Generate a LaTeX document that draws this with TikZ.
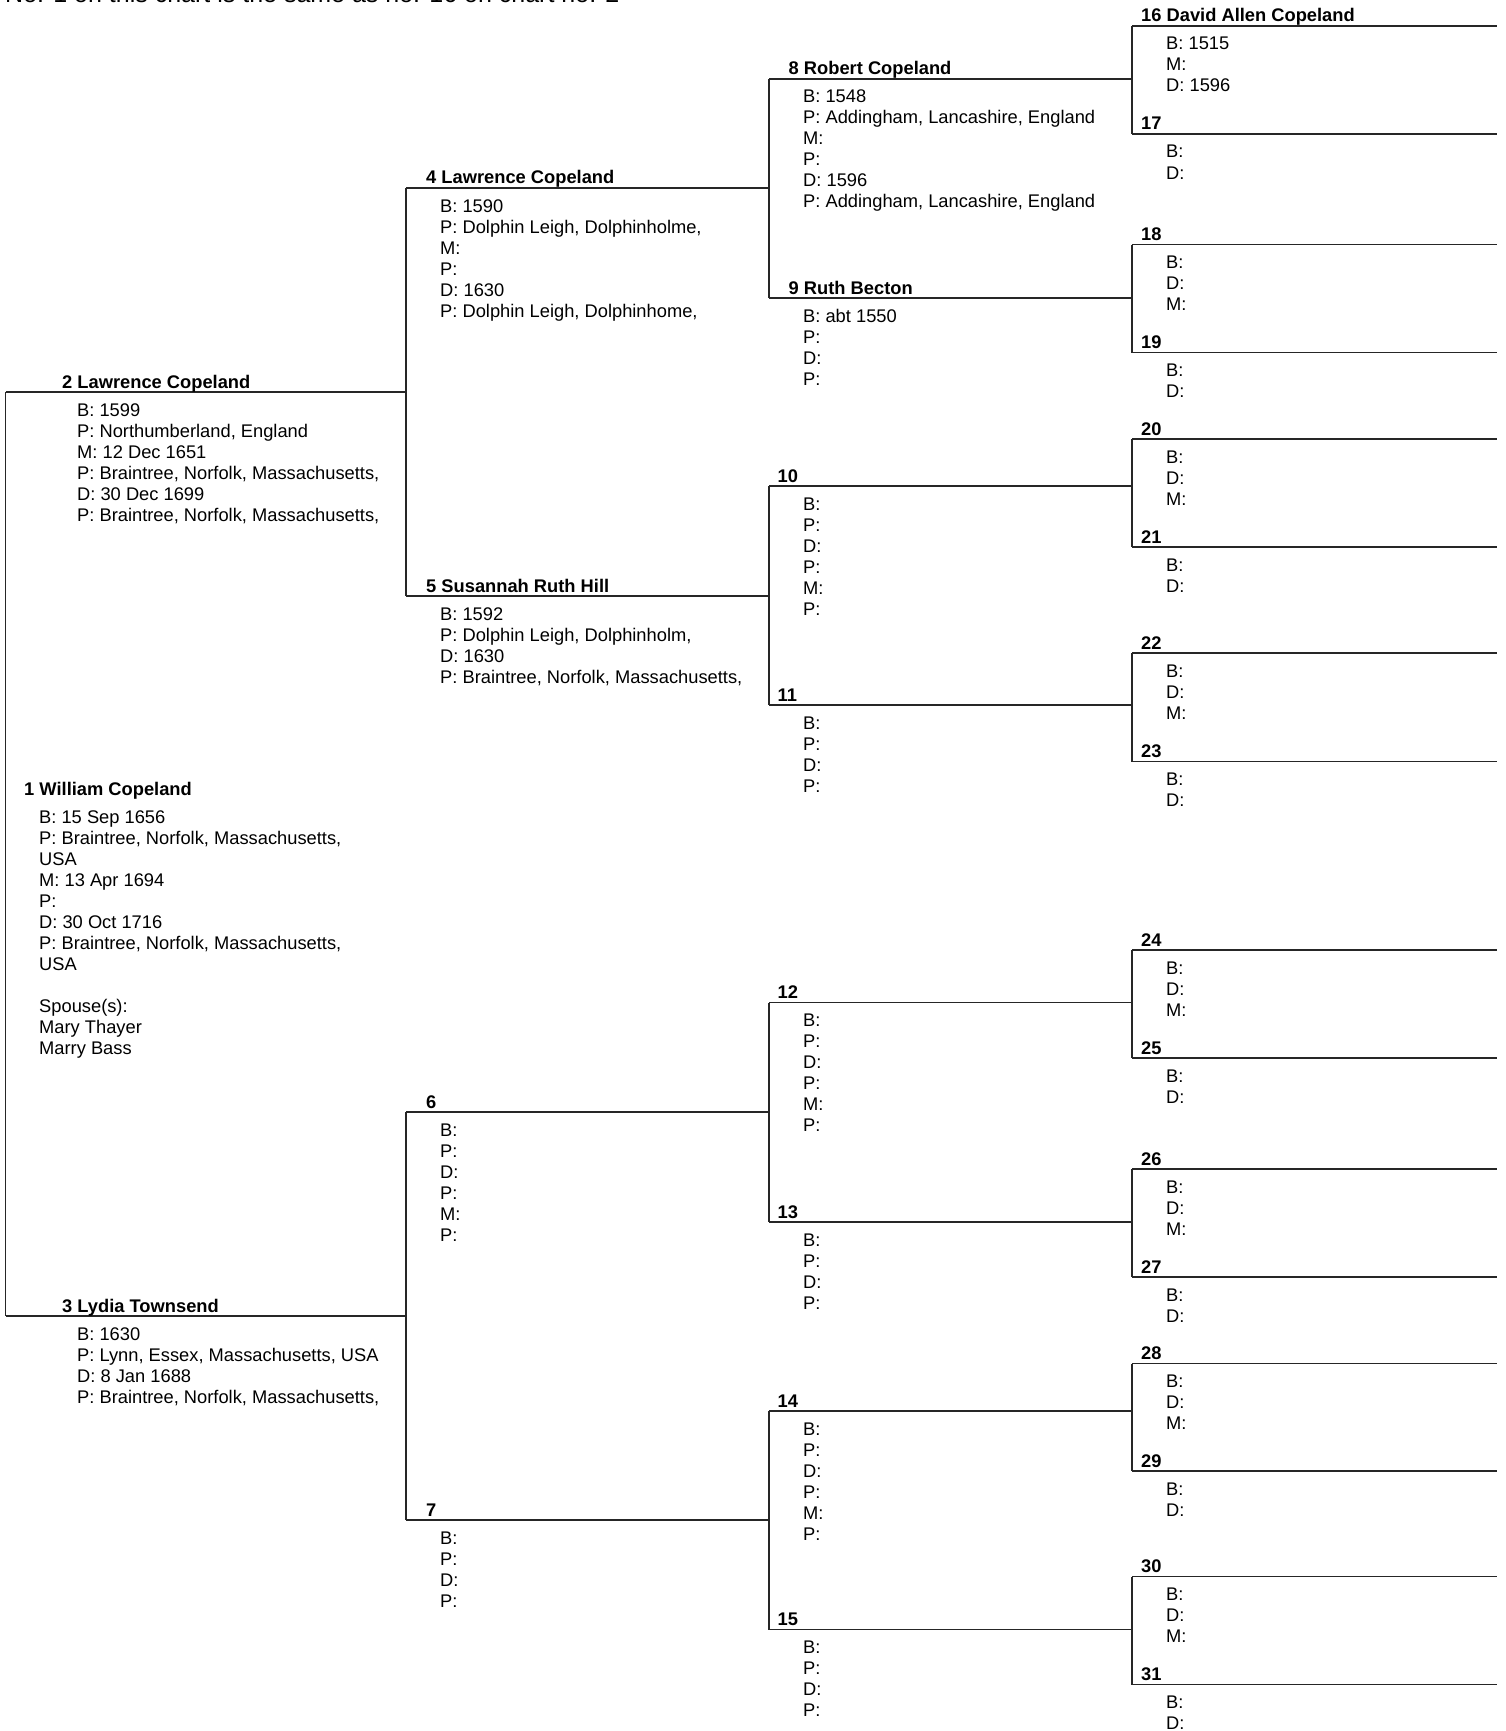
\documentclass[tikz,border=0pt]{standalone}
\usepackage{fontspec}
\setmainfont{Liberation Sans}
\usetikzlibrary{calc}
\tikzset{
	tie/.style={line width=1.3pt, black!85},
	who/.style={anchor=base west, inner sep=0pt, font=\fontsize{18.3}{21}\selectfont\bfseries},
	facts/.style={anchor=base west, inner sep=0pt, font=\fontsize{18.3}{21}\selectfont}
}
% lines of facts, first baseline on the node's base
\newcommand{\info}[1]{\begin{tabular}[t]{@{}l@{}}#1\end{tabular}}
\newcommand{\blankdad}{B:\\P:\\D:\\P:\\M:\\P:}
\newcommand{\blankmum}{B:\\P:\\D:\\P:}
\newcommand{\blankgdad}{B:\\D:\\M:}
\newcommand{\blankgmum}{B:\\D:}

\begin{document}
\begin{tikzpicture}[x=1pt,y=-1pt]
		\useasboundingbox (0,0) rectangle (1505,1731);

		% Note at the top, cut by the page edge
		\node[anchor=base west, inner sep=0pt, font=\fontsize{25}{30}\selectfont] (note) at (5,3) {No. 1 on this chart is the same as no. 16 on chart no. 2};

		% Left ends of the lines, one per person
		\coordinate (p2) at (5.5,392);
		\coordinate (p3) at (5.5,1316);
		\coordinate (p4) at (406,188);
		\coordinate (p5) at (406,596);
		\coordinate (p6) at (406,1112);
		\coordinate (p7) at (406,1520);
		\coordinate (p8) at (769,79);
		\coordinate (p9) at (769,298);
		\coordinate (p10) at (769,486);
		\coordinate (p11) at (769,705);
		\coordinate (p12) at (769,1002.5);
		\coordinate (p13) at (769,1222);
		\coordinate (p14) at (769,1411);
		\coordinate (p15) at (769,1629.5);
		\coordinate (p16) at (1132,26);
		\coordinate (p17) at (1132,134);
		\coordinate (p18) at (1132,244.5);
		\coordinate (p19) at (1132,352.5);
		\coordinate (p20) at (1132,439);
		\coordinate (p21) at (1132,547);
		\coordinate (p22) at (1132,653);
		\coordinate (p23) at (1132,761.5);
		\coordinate (p24) at (1132,950);
		\coordinate (p25) at (1132,1058);
		\coordinate (p26) at (1132,1169);
		\coordinate (p27) at (1132,1277);
		\coordinate (p28) at (1132,1363.5);
		\coordinate (p29) at (1132,1471);
		\coordinate (p30) at (1132,1576.5);
		\coordinate (p31) at (1132,1684.5);

		% Draw the lines and the brackets to the parents
		\draw[tie] (p2) -- (p3);
		\foreach \n [evaluate=\n as \c using int(2*\n), evaluate=\n as \d using int(2*\n+1)] in {2,...,15} {
			\draw[tie] (p\n) -- (p\n -| p\c);
			\draw[tie] (p\c) -- (p\d);
		}
		\foreach \n in {16,...,31}
			\draw[tie] (p\n) -- ++(365,0);

		% Person 1
		\node[who] (t1) at (24,795) {1 William Copeland};
		\node[facts] (f1) at (39,823) {\info{B: 15 Sep 1656\\P: Braintree, Norfolk, Massachusetts,\\USA\\M: 13 Apr 1694\\P:\\D: 30 Oct 1716\\P: Braintree, Norfolk, Massachusetts,\\USA\\[21pt]Spouse(s):\\Mary Thayer\\Marry Bass}};

		% Parents
		\node[who] (t2) at ([shift={(56.5,-4)}]p2) {2 Lawrence Copeland};
		\node[facts] (f2) at ([shift={(71.5,24)}]p2) {\info{B: 1599\\P: Northumberland, England\\M: 12 Dec 1651\\P: Braintree, Norfolk, Massachusetts,\\D: 30 Dec 1699\\P: Braintree, Norfolk, Massachusetts,}};
		\node[who] (t3) at ([shift={(56.5,-4)}]p3) {3 Lydia Townsend};
		\node[facts] (f3) at ([shift={(71.5,24)}]p3) {\info{B: 1630\\P: Lynn, Essex, Massachusetts, USA\\D: 8 Jan 1688\\P: Braintree, Norfolk, Massachusetts,}};

		% Grandparents
		\node[who] (t4) at ([shift={(20,-4)}]p4) {4 Lawrence Copeland};
		\node[facts] (f4) at ([shift={(34,24)}]p4) {\info{B: 1590\\P: Dolphin Leigh, Dolphinholme,\\M:\\P:\\D: 1630\\P: Dolphin Leigh, Dolphinhome,}};
		\node[who] (t5) at ([shift={(20,-4)}]p5) {5 Susannah Ruth Hill};
		\node[facts] (f5) at ([shift={(34,24)}]p5) {\info{B: 1592\\P: Dolphin Leigh, Dolphinholm,\\D: 1630\\P: Braintree, Norfolk, Massachusetts,}};
		\node[who] (t6) at ([shift={(20,-4)}]p6) {6};
		\node[facts] (f6) at ([shift={(34,24)}]p6) {\info{\blankdad}};
		\node[who] (t7) at ([shift={(20,-4)}]p7) {7};
		\node[facts] (f7) at ([shift={(34,24)}]p7) {\info{\blankmum}};

		% Great-grandparents
		\node[who] (t8) at ([shift={(19.5,-4)}]p8) {8 Robert Copeland};
		\node[facts] (f8) at ([shift={(34,24)}]p8) {\info{B: 1548\\P: Addingham, Lancashire, England\\M:\\P:\\D: 1596\\P: Addingham, Lancashire, England}};
		\node[who] (t9) at ([shift={(19.5,-4)}]p9) {9 Ruth Becton};
		\node[facts] (f9) at ([shift={(34,24)}]p9) {\info{B: abt 1550\\P:\\D:\\P:}};
		\foreach \n in {10,12,14} {
			\node[who] (t\n) at ([shift={(8.5,-4)}]p\n) {\n};
			\node[facts] (f\n) at ([shift={(34,24)}]p\n) {\info{\blankdad}};
		}
		\foreach \n in {11,13,15} {
			\node[who] (t\n) at ([shift={(8.5,-4)}]p\n) {\n};
			\node[facts] (f\n) at ([shift={(34,24)}]p\n) {\info{\blankmum}};
		}

		% Great-great-grandparents
		\node[who] (t16) at ([shift={(9,-4)}]p16) {16 David Allen Copeland};
		\node[facts] (f16) at ([shift={(34,24)}]p16) {\info{B: 1515\\M:\\D: 1596}};
		\foreach \n in {18,20,...,30} {
			\node[who] (t\n) at ([shift={(9,-4)}]p\n) {\n};
			\node[facts] (f\n) at ([shift={(34,24)}]p\n) {\info{\blankgdad}};
		}
		\foreach \n in {17,19,...,31} {
			\node[who] (t\n) at ([shift={(9,-4)}]p\n) {\n};
			\node[facts] (f\n) at ([shift={(34,24)}]p\n) {\info{\blankgmum}};
		}
	\end{tikzpicture}
\end{document}
